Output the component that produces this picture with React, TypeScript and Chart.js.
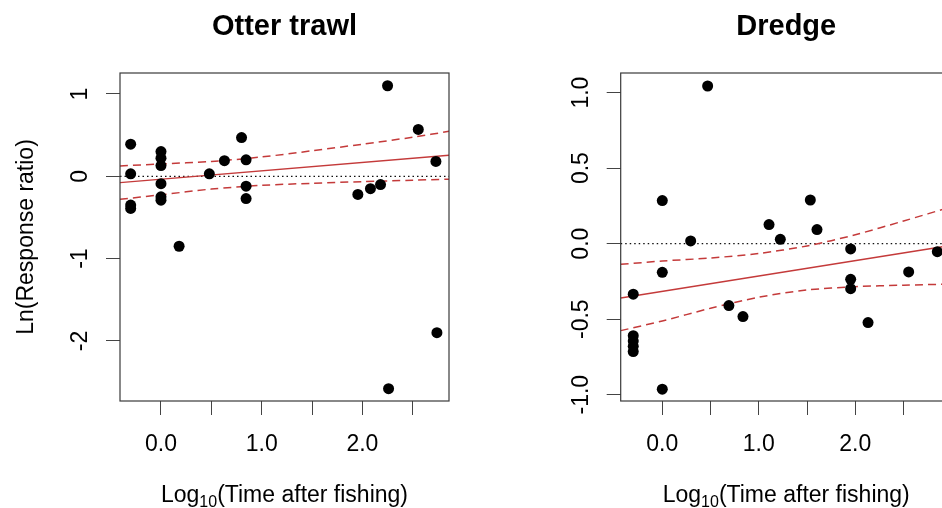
import React, { useEffect, useRef } from 'react';
import { Chart, registerables } from 'chart.js';

Chart.register(...registerables);

const FONT = "'Liberation Sans', Arial, Helvetica, sans-serif";

// ---------- Otter trawl ----------
const otterX = [-0.301, -0.301, -0.301, -0.301, 0, 0, 0, 0, 0, 0, 0.18, 0.48, 0.63, 0.8, 0.845, 0.845, 0.845, 1.955, 2.08, 2.18, 2.25, 2.26, 2.555, 2.73, 2.74];
const otterY = [0.39, 0.03, -0.35, -0.39, 0.30, 0.22, 0.13, -0.09, -0.25, -0.29, -0.85, 0.03, 0.19, 0.47, 0.20, -0.12, -0.27, -0.22, -0.15, -0.10, 1.10, -2.58, 0.57, 0.18, -1.90];
const otterFitX = [-0.407, 2.86];
const otterFitY = [-0.077, 0.255];
const otterBandX = [-0.407, 0, 0.5, 1.0, 1.5, 2.0, 2.5, 2.86];
const otterUpper = [0.125, 0.15, 0.18, 0.235, 0.31, 0.39, 0.475, 0.546];
const otterLower = [-0.28, -0.225, -0.155, -0.11, -0.085, -0.065, -0.047, -0.035];
const otterXRange = [-0.407, 2.86];
const otterYRange = [-2.73, 1.255];
const otterYTicks = [-2, -1, 0, 1];
const otterYTickLabels = ['-2', '-1', '0', '1'];

// ---------- Dredge ----------
const dredgeX = [-0.301, -0.301, -0.301, -0.301, -0.301, 0, 0, 0, 0.294, 0.47, 0.69, 0.836, 1.106, 1.223, 1.534, 1.603, 1.952, 1.952, 1.952, 2.132, 2.553, 2.85];
const dredgeY = [-0.335, -0.61, -0.645, -0.68, -0.715, 0.285, -0.19, -0.964, 0.018, 1.044, -0.41, -0.483, 0.126, 0.029, 0.289, 0.093, -0.035, -0.236, -0.298, -0.523, -0.187, -0.053];
const dredgeFitX = [-0.431, 3.0];
const dredgeFitY = [-0.36, -0.011];
const dredgeBandX = [-0.431, 0, 0.5, 1.0, 1.5, 2.0, 2.5, 3.0];
const dredgeUpper = [-0.137, -0.115, -0.095, -0.065, -0.015, 0.059, 0.15, 0.245];
const dredgeLower = [-0.576, -0.512, -0.428, -0.355, -0.307, -0.285, -0.275, -0.268];
const dredgeXRange = [-0.431, 3.0];
const dredgeYRange = [-1.042, 1.13];
const dredgeYTicks = [-1, -0.5, 0, 0.5, 1];
const dredgeYTickLabels = ['-1.0', '-0.5', '0.0', '0.5', '1.0'];

// ---------- shared ----------
const xTicks = [0, 0.5, 1, 1.5, 2, 2.5];
const xTickLabels = ['0.0', '', '1.0', '', '2.0', ''];
const zeroLineY = [0, 0];

const RED = '#c43a3a';

const pts = (xs: number[], ys: number[]) => xs.map((x, i) => ({ x, y: ys[i] }));

type PanelProps = {
  title: string;
  yTitle?: string;
  xs: number[];
  ys: number[];
  fitX: number[];
  fitY: number[];
  bandX: number[];
  upper: number[];
  lower: number[];
  xRange: number[];
  yRange: number[];
  yTicks: number[];
  yTickLabels: string[];
  left: number;
  width: number;
  yAxisWidth: number;
  padRight: number;
  yTickPad: number;
};

function Panel(p: PanelProps) {
  const ref = useRef<HTMLCanvasElement | null>(null);
  useEffect(() => {
    if (!ref.current) return;
    const decor = {
      id: 'panelDecor',
      afterDatasetsDraw(chart: any) {
        const { ctx, chartArea: a } = chart;
        ctx.save();
        ctx.strokeStyle = '#3a3a3a';
        ctx.lineWidth = 1.2;
        ctx.strokeRect(a.left, a.top, a.right - a.left, a.bottom - a.top);
        ctx.restore();
      },
      afterDraw(chart: any) {
        const { ctx, chartArea: a } = chart;
        const cx = (a.left + a.right) / 2;
        ctx.save();
        ctx.fillStyle = '#000';
        ctx.font = `bold 29px ${FONT}`;
        ctx.textAlign = 'center';
        ctx.textBaseline = 'alphabetic';
        ctx.fillText(p.title, cx, 35);
        const big = `23px ${FONT}`;
        const small = `16px ${FONT}`;
        ctx.textAlign = 'left';
        ctx.font = big;
        const w1 = ctx.measureText('Log').width;
        const w3 = ctx.measureText('(Time after fishing)').width;
        ctx.font = small;
        const w2 = ctx.measureText('10').width;
        let x0 = cx - (w1 + w2 + w3) / 2;
        const base = 502;
        ctx.font = big;
        ctx.fillText('Log', x0, base);
        x0 += w1;
        ctx.font = small;
        ctx.fillText('10', x0, base + 5);
        x0 += w2;
        ctx.font = big;
        ctx.fillText('(Time after fishing)', x0, base);
        if (p.yTitle) {
          ctx.translate(27, (a.top + a.bottom) / 2);
          ctx.rotate(-Math.PI / 2);
          ctx.textAlign = 'center';
          ctx.textBaseline = 'middle';
          ctx.font = big;
          ctx.fillText(p.yTitle, 0, 0);
        }
        ctx.restore();
      },
    };

    const chart = new Chart(ref.current, {
      type: 'scatter',
      data: {
        datasets: [
          {
            data: pts(p.xs, p.ys),
            backgroundColor: '#000',
            borderColor: '#000',
            borderWidth: 0,
            pointRadius: 5.5,
            pointHoverRadius: 5.5,
            showLine: false,
            order: 0,
          },
          {
            data: pts(p.xRange, zeroLineY),
            showLine: true,
            borderColor: '#111',
            borderWidth: 1.2,
            borderDash: [1.5, 3],
            pointRadius: 0,
            order: 3,
          },
          {
            data: pts(p.fitX, p.fitY),
            showLine: true,
            borderColor: RED,
            borderWidth: 1.4,
            pointRadius: 0,
            order: 2,
          },
          {
            data: pts(p.bandX, p.upper),
            showLine: true,
            borderColor: RED,
            borderWidth: 1.5,
            borderDash: [8, 5],
            pointRadius: 0,
            tension: 0.3,
            order: 2,
          },
          {
            data: pts(p.bandX, p.lower),
            showLine: true,
            borderColor: RED,
            borderWidth: 1.5,
            borderDash: [8, 5],
            pointRadius: 0,
            tension: 0.3,
            order: 2,
          },
        ],
      },
      options: {
        animation: false,
        responsive: false,
        events: [],
        layout: { padding: { top: 73, right: p.padRight, bottom: 0, left: 0 } },
        plugins: {
          legend: { display: false },
          tooltip: { enabled: false },
          title: { display: false },
        },
        scales: {
          x: {
            type: 'linear',
            min: p.xRange[0],
            max: p.xRange[1],
            afterBuildTicks: (s: any) => {
              s.ticks = xTicks.map((v) => ({ value: v }));
            },
            afterFit: (s: any) => {
              s.height = 107;
            },
            ticks: {
              callback: (_v: any, i: number) => xTickLabels[i],
              font: { family: FONT, size: 23 },
              color: '#000',
              padding: 16,
              maxRotation: 0,
              minRotation: 0,
              autoSkip: false,
            },
            grid: { drawOnChartArea: false, drawTicks: true, tickLength: 14, color: '#444', lineWidth: 1 },
            border: { display: false },
          },
          y: {
            type: 'linear',
            min: p.yRange[0],
            max: p.yRange[1],
            afterBuildTicks: (s: any) => {
              s.ticks = p.yTicks.map((v) => ({ value: v }));
            },
            afterFit: (s: any) => {
              s.width = p.yAxisWidth;
            },
            ticks: {
              callback: (_v: any, i: number) => p.yTickLabels[i],
              font: { family: FONT, size: 23 },
              color: '#000',
              padding: p.yTickPad,
              minRotation: 90,
              maxRotation: 90,
              crossAlign: 'center',
              autoSkip: false,
            },
            grid: { drawOnChartArea: false, drawTicks: true, tickLength: 14, color: '#444', lineWidth: 1 },
            border: { display: false },
          },
        },
      } as any,
      plugins: [decor],
    });
    return () => chart.destroy();
  }, []);

  return (
    <canvas
      ref={ref}
      width={p.width}
      height={508}
      style={{ position: 'absolute', left: p.left, top: 0, width: p.width, height: 508 }}
    />
  );
}

export default function App() {
  return (
    <div
      style={{
        position: 'fixed',
        left: 0,
        top: 0,
        width: 942,
        height: 508,
        overflow: 'hidden',
        background: '#fff',
      }}
    >
      <Panel
        title="Otter trawl"
        yTitle="Ln(Response ratio)"
        xs={otterX}
        ys={otterY}
        fitX={otterFitX}
        fitY={otterFitY}
        bandX={otterBandX}
        upper={otterUpper}
        lower={otterLower}
        xRange={otterXRange}
        yRange={otterYRange}
        yTicks={otterYTicks}
        yTickLabels={otterYTickLabels}
        left={0}
        width={471}
        yAxisWidth={120}
        padRight={22}
        yTickPad={15}
      />
      <Panel
        title="Dredge"
        xs={dredgeX}
        ys={dredgeY}
        fitX={dredgeFitX}
        fitY={dredgeFitY}
        bandX={dredgeBandX}
        upper={dredgeUpper}
        lower={dredgeLower}
        xRange={dredgeXRange}
        yRange={dredgeYRange}
        yTicks={dredgeYTicks}
        yTickLabels={dredgeYTickLabels}
        left={520}
        width={440}
        yAxisWidth={100.7}
        padRight={8.2}
        yTickPad={5}
      />
    </div>
  );
}
